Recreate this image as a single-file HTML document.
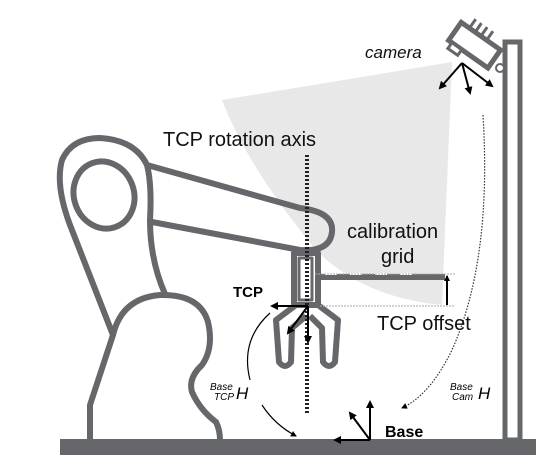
<!DOCTYPE html>
<html><head><meta charset="utf-8"><style>
html,body{margin:0;padding:0;background:#fff;}
svg{display:block;}
text{font-family:"Liberation Sans","DejaVu Sans",sans-serif;}
</style></head><body>
<svg width="546" height="469" viewBox="0 0 546 469">
<defs>
<marker id="ah" markerWidth="8" markerHeight="8" refX="6" refY="4" orient="auto" markerUnits="userSpaceOnUse"><path d="M0,0 L8,4 L0,8 Z" fill="#000"/></marker>
<marker id="ahs" markerWidth="6" markerHeight="6" refX="5" refY="3" orient="auto" markerUnits="userSpaceOnUse"><path d="M0,0 L6,3 L0,6 Z" fill="#000"/></marker>
</defs>
<path d="M222,100 L452,62 L442,305 Q345,295 300,230 Q245,160 222,100 Z" fill="#e8e8e8"/>
<rect x="60" y="439" width="476" height="16" fill="#65676a"/>
<rect x="505" y="42" width="15" height="398" fill="#fff" stroke="#65676a" stroke-width="5"/>
<g transform="translate(474,46) rotate(35)">
<rect x="-24" y="-12" width="48" height="22" fill="#fff" stroke="#65676a" stroke-width="5"/>
<path d="M-14,-13 v-10 M-7,-13 v-10 M0,-13 v-10 M7,-13 v-10" stroke="#65676a" stroke-width="3"/>
<rect x="-20" y="10" width="12" height="7" fill="#fff" stroke="#65676a" stroke-width="3"/>
</g>
<circle cx="500" cy="68" r="4" fill="#fff" stroke="#65676a" stroke-width="2"/>
<g stroke="#000" stroke-width="2" fill="none">
<line x1="462" y1="63" x2="440" y2="88" marker-end="url(#ah)"/>
<line x1="462" y1="63" x2="470" y2="93" marker-end="url(#ah)"/>
<line x1="462" y1="63" x2="492" y2="86" marker-end="url(#ah)"/>
</g>
<g fill="none" stroke="#65676a" stroke-width="6" stroke-linejoin="round">
<path d="M90,440 V405 L113,335 Q122,298 160,295 Q200,294 208,322 Q214,348 202,365 Q188,378 192,392 Q200,410 216,422 Q220,430 220,440"/>
<path d="M113,335 L70,225 Q55,185 62,160 Q72,138 100,138 Q135,140 147,165 Q152,185 150,220 Q150,260 165,294"/>
<ellipse cx="104" cy="195" rx="30" ry="34" transform="rotate(-20 104 195)"/>
<path d="M147,165 L300,208 Q334,212 332,232 Q330,252 300,250 L152,222"/>
<rect x="294" y="253" width="24" height="52" fill="#fff"/>
<line x1="319" y1="277" x2="445" y2="277"/>
<path d="M296,305 L276,320 L279,362 Q285,370 291,362 L292,328 L306,316"/>
<path d="M318,305 L338,320 L335,362 Q329,370 323,362 L322,328 L310,316"/>
<rect x="299" y="258" width="13" height="42" fill="#fff" stroke-width="3"/>
</g>
<path d="M325,274 h12 M350,274 h12 M375,274 h12 M400,274 h12" stroke="#fff" stroke-width="2"/>
<line x1="315" y1="274" x2="455" y2="274" stroke="#aaa" stroke-width="1" stroke-dasharray="2 1"/>
<line x1="320" y1="306" x2="455" y2="306" stroke="#aaa" stroke-width="1" stroke-dasharray="2 1"/>
<line x1="447" y1="305" x2="447" y2="276" stroke="#000" stroke-width="2" marker-end="url(#ahs)"/>
<line x1="307" y1="155" x2="307" y2="415" stroke="#222" stroke-width="4" stroke-dasharray="2 2"/>
<g stroke="#000" stroke-width="2">
<line x1="308" y1="306" x2="272" y2="306" marker-end="url(#ah)"/>
<line x1="308" y1="306" x2="288" y2="333" marker-end="url(#ah)"/>
<line x1="308" y1="306" x2="308" y2="342" marker-end="url(#ah)"/>
</g>
<g stroke="#000" stroke-width="2">
<line x1="370" y1="440" x2="335" y2="440" marker-end="url(#ah)"/>
<line x1="370" y1="440" x2="370" y2="402" marker-end="url(#ah)"/>
<line x1="370" y1="440" x2="350" y2="413" marker-end="url(#ah)"/>
</g>
<path d="M270,313 Q240,340 250,380 M262,405 Q275,425 296,436" fill="none" stroke="#000" stroke-width="1.2" marker-end="url(#ahs)"/>
<path d="M483,115 Q492,260 452,350 Q430,395 402,408" fill="none" stroke="#333" stroke-width="1.2" stroke-dasharray="1.5 1.5" marker-end="url(#ahs)"/>
<text x="163" y="146" font-size="20" fill="#111">TCP rotation axis</text>
<text x="365" y="58" font-size="17" font-style="italic" fill="#111">camera</text>
<text x="347" y="238" font-size="20" fill="#111">calibration</text>
<text x="381" y="263" font-size="20" fill="#111">grid</text>
<text x="377" y="330" font-size="20" fill="#111">TCP offset</text>
<text x="233" y="297" font-size="15" font-weight="bold" font-family="Liberation Serif, serif" fill="#000">TCP</text>
<text x="385" y="437" font-size="16" font-weight="bold" font-family="Liberation Serif, serif" fill="#000">Base</text>
<g font-family="Liberation Serif, serif" font-style="italic" fill="#000">
<text x="210" y="390" font-size="10">Base</text><text x="214" y="400" font-size="10">TCP</text><text x="236" y="399" font-size="17">H</text>
</g>
<g font-family="Liberation Serif, serif" font-style="italic" fill="#000">
<text x="450" y="390" font-size="10">Base</text><text x="452" y="400" font-size="10">Cam</text><text x="478" y="399" font-size="17">H</text>
</g>
</svg>
</body></html>
